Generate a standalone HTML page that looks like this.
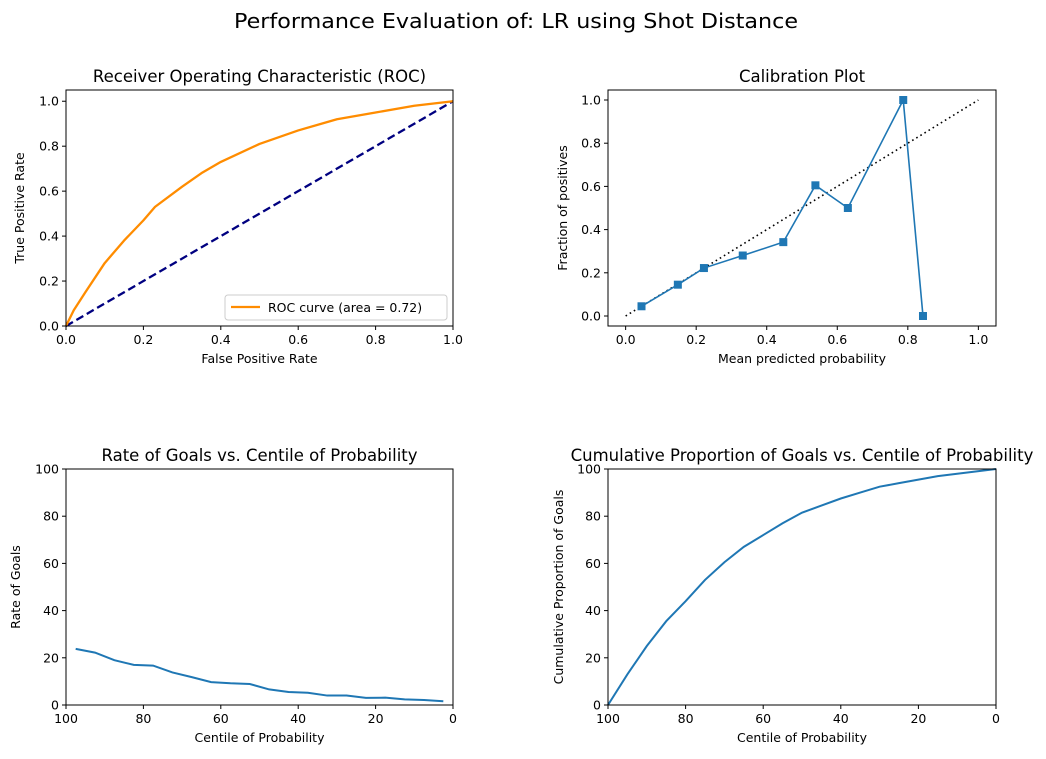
<!DOCTYPE html>
<html><head><meta charset="utf-8"><style>
body{margin:0;background:#fff;}
svg{font-family:"DejaVu Sans","Liberation Sans",sans-serif;display:block}
</style></head><body>
<svg id="fig" width="1046" height="759" viewBox="0 0 1046 759">
<rect width="1046" height="759" fill="#fff"/>
<text x="516" y="28" font-size="20.5" text-anchor="middle" textLength="564" lengthAdjust="spacingAndGlyphs">Performance Evaluation of: LR using Shot Distance</text>
</svg>
<script>
const rocFpr=[0,0.02,0.05,0.1,0.15,0.2,0.23,0.3,0.35,0.4,0.5,0.6,0.7,0.8,0.9,1];
const rocTpr=[0,0.07,0.15,0.28,0.38,0.47,0.53,0.62,0.68,0.73,0.81,0.87,0.92,0.95,0.98,1];
const calPred=[0.045,0.148,0.222,0.332,0.447,0.538,0.63,0.787,0.843];
const calFrac=[0.045,0.145,0.222,0.28,0.342,0.605,0.5,1.0,0.0];
const rateCentile=[97.5,92.5,87.5,82.5,77.5,72.5,67.5,62.5,57.5,52.5,47.5,42.5,37.5,32.5,27.5,22.5,17.5,12.5,7.5,2.5];
const rateGoals=[23.8,22.2,19.0,17.0,16.7,13.8,11.8,9.7,9.2,8.9,6.6,5.5,5.2,4.0,4.0,3.0,3.1,2.4,2.1,1.6];
const cumCentile=[100,95,90,85,80,75,70,65,60,55,50,45,40,35,30,25,20,15,10,5,0];
const cumGoals=[0,13,25,35.5,44,53,60.5,67,72,77,81.5,84.5,87.5,90,92.5,94,95.5,97,98,99,100];
const unitTicks=['0.0','0.2','0.4','0.6','0.8','1.0'];
const pctTicks=['0','20','40','60','80','100'];

const NS='http://www.w3.org/2000/svg';
const svg=document.getElementById('fig');
function mk(tag,attrs,parent,txt){const e=document.createElementNS(NS,tag);for(const k in attrs)e.setAttribute(k,attrs[k]);if(txt!==undefined)e.textContent=txt;(parent||svg).appendChild(e);return e;}

function axes(o){
  const g=mk('g',{});
  
  
  const sx=v=>o.x0+(v-o.xmin)/(o.xmax-o.xmin)*(o.x1-o.x0);
  const sy=v=>o.y1-(v-o.ymin)/(o.ymax-o.ymin)*(o.y1-o.y0);
  o.xticks.forEach(t=>{const x=sx(+t);mk('line',{x1:x,x2:x,y1:o.y1,y2:o.y1+4,stroke:'#000'},g);mk('text',{x:x,y:o.y1+18,'font-size':12.5,'text-anchor':'middle'},g,t);});
  o.yticks.forEach(t=>{const y=sy(+t);mk('line',{x1:o.x0-4,x2:o.x0,y1:y,y2:y,stroke:'#000'},g);mk('text',{x:o.x0-7,y:y+4.5,'font-size':12.5,'text-anchor':'end'},g,t);});
  const t=mk('text',{x:(o.x0+o.x1)/2,y:o.y0-8,'font-size':16.5,'text-anchor':'middle'},g,o.title);
  
  
  const xl=mk('text',{x:(o.x0+o.x1)/2,y:o.y1+37,'font-size':12.5,'text-anchor':'middle'},g,o.xlabel);
  
  
  const yl=mk('text',{x:0,y:0,'font-size':12.5,'text-anchor':'middle',transform:`translate(${o.ylx},${(o.y0+o.y1)/2}) rotate(-90)`},g,o.ylabel);
  
  
  o.g=g;o.sx=sx;o.sy=sy;return o;
}
function frame(o){mk('rect',{x:o.x0,y:o.y0,width:o.x1-o.x0,height:o.y1-o.y0,fill:'none',stroke:'#000','stroke-width':1},o.g);}
function line(o,xs,ys,attrs,name){
  const p=mk('polyline',Object.assign({points:xs.map((x,i)=>o.sx(x)+','+o.sy(ys[i])).join(' '),fill:'none'},attrs),o.g);
  
  
  return p;
}

const a1=axes({name:'roc-chart',x0:66,x1:453,y0:90,y1:326,xmin:0,xmax:1,ymin:0,ymax:1.05,xticks:unitTicks,yticks:unitTicks,title:'Receiver Operating Characteristic (ROC)',xlabel:'False Positive Rate',ylabel:'True Positive Rate',ylx:24});
line(a1,[0,1],[0,1],{stroke:'#000080','stroke-width':2.3,'stroke-dasharray':'8,4'},'chance-line');
line(a1,rocFpr,rocTpr,{stroke:'#ff8c00','stroke-width':2.3,'stroke-linejoin':'round'},'roc-curve');
frame(a1);
const lg=mk('g',{},a1.g);


mk('rect',{x:225,y:295,width:222,height:25,rx:3,fill:'#fff',stroke:'#ccc'},lg);
mk('line',{x1:231,x2:260,y1:307,y2:307,stroke:'#ff8c00','stroke-width':2.3},lg);
mk('text',{x:268,y:312,'font-size':12.5},lg,'ROC curve (area = 0.72)');

const a2=axes({name:'calibration-chart',x0:608,x1:996,y0:90,y1:326,xmin:-0.05,xmax:1.05,ymin:-0.0463,ymax:1.0463,xticks:unitTicks,yticks:unitTicks,title:'Calibration Plot',xlabel:'Mean predicted probability',ylabel:'Fraction of positives',ylx:567});
line(a2,[0,1],[0,1],{stroke:'#000','stroke-width':1.6,'stroke-dasharray':'1.6,3.2'},'perfect-calibration-line');
line(a2,calPred,calFrac,{stroke:'#1f77b4','stroke-width':1.6},'calibration-curve');
calPred.forEach((p,i)=>{const r=mk('rect',{x:a2.sx(p)-4,y:a2.sy(calFrac[i])-4,width:8,height:8,fill:'#1f77b4'},a2.g);

});
frame(a2);

const a3=axes({name:'goal-rate-chart',x0:66,x1:453,y0:469,y1:705,xmin:100,xmax:0,ymin:0,ymax:100,xticks:['100','80','60','40','20','0'],yticks:pctTicks,title:'Rate of Goals vs. Centile of Probability',xlabel:'Centile of Probability',ylabel:'Rate of Goals',ylx:20});
line(a3,rateCentile,rateGoals,{stroke:'#1f77b4','stroke-width':2},'goal-rate-line');
frame(a3);

const a4=axes({name:'cumulative-goals-chart',x0:608,x1:996,y0:469,y1:705,xmin:100,xmax:0,ymin:0,ymax:100,xticks:['100','80','60','40','20','0'],yticks:pctTicks,title:'Cumulative Proportion of Goals vs. Centile of Probability',xlabel:'Centile of Probability',ylabel:'Cumulative Proportion of Goals',ylx:563});
line(a4,cumCentile,cumGoals,{stroke:'#1f77b4','stroke-width':2},'cumulative-goals-line');
frame(a4);
</script>
</body></html>
